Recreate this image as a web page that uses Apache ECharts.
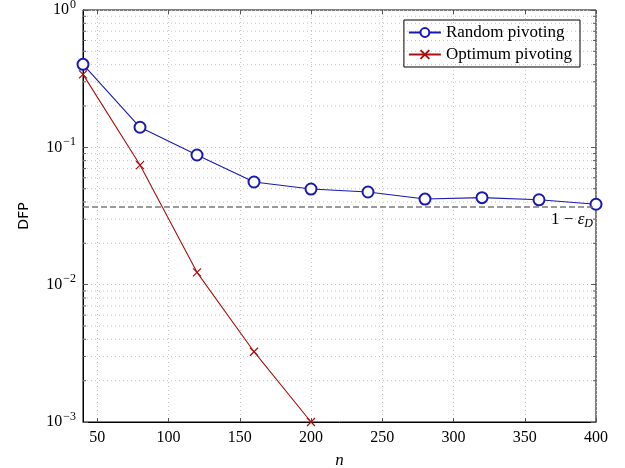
<!DOCTYPE html>
<html>
<head>
<meta charset="utf-8">
<script src="https://cdn.jsdelivr.net/npm/echarts@6/dist/echarts.min.js"></script>
<style>
  html, body { margin: 0; padding: 0; background: #fff; }
  #chart { width: 625px; height: 468px; }
</style>
</head>
<body>
<div id="chart"></div>
<script>
// data
const nValues = [40, 80, 120, 160, 200, 240, 280, 320, 360, 400];
const randomPivoting = [0.402, 0.140, 0.0879, 0.0559, 0.0497, 0.0473, 0.0420, 0.0430, 0.0415, 0.0385];
const optimumN = [40, 80, 120, 160, 200];
const optimumPivoting = [0.340, 0.0743, 0.0123, 0.00325, 0.001];
const epsilonLevel = 0.0368;

// ticks
const xTicks = [50, 100, 150, 200, 250, 300, 350, 400];
const yMinorTicks = [];
[0.001, 0.01, 0.1].forEach(function (d) {
    for (let k = 2; k <= 9; k++) yMinorTicks.push(+(k * d).toPrecision(3));
});

const serif = 'Liberation Serif';
const blue = '#1a1ab0';
const red = '#a81010';
const gridGray = '#c4c4c4';
const crossPath = 'path://M0,0L10,10M10,0L0,10';

const supLabel = function (v) {
    const e = Math.round(Math.log10(v));
    const s = e < 0 ? '\u2212' + (-e) : '' + e;
    return '{b|10}{s|' + s + '}';
};

let myChart = echarts.init(document.getElementById('chart'));
myChart.setOption({
    animation: false,
    grid: {
        left: 83, right: 29, top: 10, bottom: 46,
        outerBoundsMode: 'none',
        containLabel: false,
        show: true, borderColor: '#000', borderWidth: 1
    },
    legend: {
        top: 20, right: 45,
        orient: 'vertical',
        borderColor: '#000', borderWidth: 1,
        padding: [4, 8, 4, 4],
        itemGap: 5,
        itemWidth: 32, itemHeight: 11,
        textStyle: { fontFamily: serif, fontSize: 17, color: '#000' },
        data: ['Random pivoting', 'Optimum pivoting']
    },
    xAxis: [{
        type: 'value',
        min: 40, max: 400,
        name: 'n',
        nameLocation: 'middle',
        nameGap: 30,
        nameTextStyle: { fontFamily: serif, fontStyle: 'italic', fontSize: 17, color: '#000' },
        axisLine: { lineStyle: { color: '#000', width: 1 } },
        axisTick: { inside: true, length: 4, customValues: xTicks, lineStyle: { color: '#555' } },
        axisLabel: {
            customValues: xTicks, margin: 8,
            fontFamily: serif, fontSize: 16, color: '#000'
        },
        splitLine: { show: true, lineStyle: { color: gridGray, type: [1, 3], width: 1 } }
    }, {
        type: 'value',
        min: 40, max: 400,
        position: 'top',
        axisLine: { show: false },
        axisTick: { inside: true, length: 4, customValues: xTicks, lineStyle: { color: '#555' } },
        axisLabel: { show: false },
        splitLine: { show: false }
    }],
    yAxis: [{
        type: 'log',
        logBase: 10,
        min: 0.001, max: 1,
        name: 'DFP',
        nameLocation: 'middle',
        nameGap: 52,
        nameTextStyle: { fontFamily: 'DejaVu Sans', fontSize: 14, color: '#000' },
        axisLine: { lineStyle: { color: '#000', width: 1 } },
        axisTick: { inside: true, length: 5, lineStyle: { color: '#555' } },
        axisLabel: {
            margin: 7,
            formatter: supLabel,
            rich: {
                b: { fontFamily: serif, fontSize: 16, color: '#000' },
                s: { fontFamily: serif, fontSize: 12, color: '#000', padding: [0, 0, 11, 1] }
            }
        },
        splitLine: { show: true, lineStyle: { color: gridGray, type: [1, 3], width: 1 } }
    }, {
        type: 'log',
        logBase: 10,
        min: 0.001, max: 1,
        position: 'right',
        axisLine: { show: false },
        axisTick: { inside: true, length: 5, lineStyle: { color: '#555' } },
        axisLabel: { show: false },
        splitLine: { show: false }
    }],
    series: [{
        // minor grid lines and minor ticks of the log axis
        type: 'custom',
        silent: true,
        z: 1,
        data: yMinorTicks.map(function (v) { return [40, v]; }),
        renderItem: function (params, api) {
            const p0 = api.coord([40, api.value(1)]);
            const p1 = api.coord([400, api.value(1)]);
            return {
                type: 'group',
                children: [{
                    type: 'line',
                    shape: { x1: p0[0], y1: p0[1], x2: p1[0], y2: p1[1] },
                    style: { stroke: gridGray, lineWidth: 1, lineDash: [1, 3] }
                }, {
                    type: 'line',
                    shape: { x1: p0[0], y1: p0[1], x2: p0[0] + 3, y2: p0[1] },
                    style: { stroke: '#555', lineWidth: 1 }
                }, {
                    type: 'line',
                    shape: { x1: p1[0] - 3, y1: p1[1], x2: p1[0], y2: p1[1] },
                    style: { stroke: '#555', lineWidth: 1 }
                }]
            };
        }
    }, {
        name: 'Random pivoting',
        type: 'line',
        z: 4,
        data: nValues.map(function (n, i) { return [n, randomPivoting[i]]; }),
        symbol: 'emptyCircle',
        symbolSize: 11,
        showAllSymbol: true,
        lineStyle: { color: blue, width: 1.1 },
        itemStyle: { color: blue, borderColor: blue, borderWidth: 1 },
        markLine: {
            silent: true,
            symbol: 'none',
            precision: 5,
            lineStyle: { color: '#7a7a7a', type: [6, 3], width: 1.5 },
            label: {
                position: 'insideEndBottom',
                distance: [3, 3],
                formatter: '{a|1 \u2212 }{e|\u03b5}{d|D}',
                rich: {
                    a: { fontFamily: serif, fontSize: 17, color: '#000' },
                    e: { fontFamily: serif, fontSize: 17, fontStyle: 'italic', color: '#000' },
                    d: { fontFamily: serif, fontSize: 12, fontStyle: 'italic', color: '#000', padding: [8, 0, 0, 0] }
                }
            },
            data: [{ yAxis: epsilonLevel }]
        }
    }, {
        name: 'Optimum pivoting',
        type: 'line',
        z: 3,
        data: optimumN.map(function (n, i) { return [n, optimumPivoting[i]]; }),
        symbol: crossPath,
        symbolSize: 8,
        showAllSymbol: true,
        lineStyle: { color: red, width: 1.1 },
        itemStyle: { color: red, borderColor: red, borderWidth: 1.2 }
    }]
});
window.addEventListener('resize', () => {
    myChart.resize();
});
</script>
</body>
</html>
